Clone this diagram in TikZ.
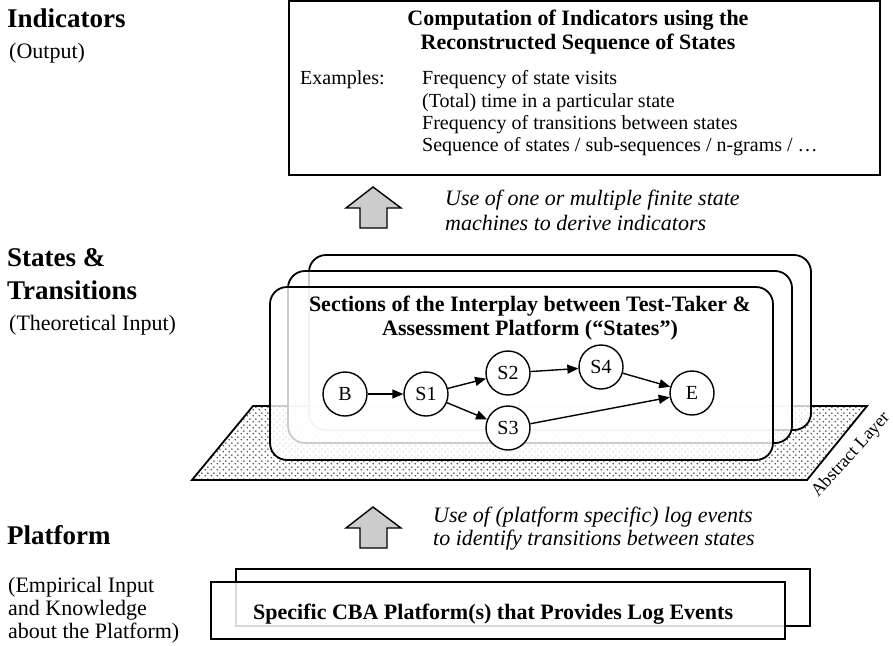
\documentclass[tikz,border=0pt]{standalone}
\usepackage{fontspec}
\setmainfont{Liberation Serif}
\usetikzlibrary{patterns.meta,arrows.meta}
\tikzdeclarepattern{
  name=layerdots,
  type=uncolored,
  bounding box={(0pt,0pt) and (6pt,6pt)},
  tile size={(6pt,6pt)},
  code={
    \fill (1.5pt,1.5pt) circle (0.95pt);
    \fill (4.5pt,4.5pt) circle (0.95pt);
  }
}
\tikzset{
  heading/.style={font=\fontsize{27}{30}\selectfont\bfseries, anchor=west, inner sep=0pt},
  subtext/.style={font=\fontsize{22}{23}\selectfont, anchor=west, inner sep=0pt, align=left},
  boxtext/.style={font=\fontsize{20}{22.4}\selectfont, inner sep=0pt},
  boldtext/.style={font=\fontsize{22}{24.5}\selectfont\bfseries, inner sep=0pt, align=center},
  itext/.style={font=\fontsize{22}{23.5}\selectfont\itshape, anchor=west, inner sep=0pt, align=left},
  state/.style={circle, draw, line width=1.4pt, minimum size=44pt, inner sep=0pt, font=\fontsize{20}{22}\selectfont, fill=white},
  trans/.style={line width=1.4pt, -{Triangle[length=11pt,width=9pt]}},
  layerbox/.style={draw, line width=1.8pt, rounded corners=17pt, fill=white, fill opacity=0.8, draw opacity=1},
  flatbox/.style={draw, line width=1.8pt, fill=white, fill opacity=0.85},
  bigarrow/.style={draw, line width=1.4pt, fill=black!20, line join=miter},
}
\begin{document}
\begin{tikzpicture}[x=1pt,y=-1pt]
\useasboundingbox (0,0) rectangle (893,645);

% left labels
\node[heading] (hInd) at (7,18) {Indicators};
\node[subtext] (sInd) at (9,53) {(Output)};
\node[heading] (hSt1) at (7,258) {States \&};
\node[heading] (hSt2) at (7,290) {Transitions};
\node[subtext] (sSt) at (9,325) {(Theoretical Input)};
\node[heading] (hPl) at (7,535) {Platform};
\node[subtext, anchor=west] (sPl1) at (8,587) {(Empirical Input};
\node[subtext, anchor=west] (sPl2) at (8,610) {and Knowledge};
\node[subtext, anchor=west] (sPl3) at (8,633) {about the Platform)};

% top box
\draw[line width=2pt] (289,1) rectangle (880,175);
\node[boldtext] (tTitle) at (578,32) {Computation of Indicators using the\\Reconstructed Sequence of States};
\node[boxtext, anchor=west] (tEx) at (300,80) {Examples:};
\node[boxtext, anchor=west] (tI1) at (422,80) {Frequency of state visits};
\node[boxtext, anchor=west] (tI2) at (422,103) {(Total) time in a particular state};
\node[boxtext, anchor=west] (tI3) at (422,125) {Frequency of transitions between states};
\node[boxtext, anchor=west] (tI4) at (422,147) {Sequence of states / sub-sequences / n-grams / \dots};

% upper block arrow
\draw[bigarrow] (373,187) -- (401,208) -- (387,208) -- (387,228) -- (360,228) -- (360,208) -- (346,208) -- cycle;
\node[itext] (uText1) at (445,200) {Use of one or multiple finite state};
\node[itext] (uText2) at (445,223) {machines to derive indicators};

% abstract layer
\path[pattern={layerdots}, pattern color=black!75] (253,406) -- (867,406) -- (807,480) -- (192,480) -- cycle;
\draw[line width=1.8pt] (253,406) -- (867,406) -- (807,480) -- (192,480) -- cycle;
\node[font=\fontsize{18}{20}\selectfont, rotate=48, inner sep=0pt] (alab) at (851,455) {Abstract Layer};

% layered state boxes
\draw[layerbox] (309,255) rectangle (811,430);
\draw[layerbox] (288,271) rectangle (792,443);
\draw[layerbox] (270,287) rectangle (773,460);
\node[boldtext] (sTitle) at (530,318) {Sections of the Interplay between Test-Taker \&\\Assessment Platform (“States”)};

\node[state] (B) at (345,394) {B};
\node[state] (S1) at (426,394) {S1};
\node[state] (S2) at (508,373) {S2};
\node[state] (S3) at (508,428) {S3};
\node[state] (S4) at (601,367) {S4};
\node[state] (E) at (692,393) {E};
\draw[trans] (B) -- (S1);
\draw[trans] (S1) -- (S2);
\draw[trans] (S1) -- (S3);
\draw[trans] (S2) -- (S4);
\draw[trans] (S4) -- (E);
\draw[trans] (S3) -- (E);

% lower block arrow
\draw[bigarrow] (373,507) -- (401,528) -- (387,528) -- (387,548) -- (360,548) -- (360,528) -- (346,528) -- cycle;
\node[itext] (lText1) at (433,517) {Use of (platform specific) log events};
\node[itext] (lText2) at (433,540) {to identify transitions between states};

% platform boxes
\draw[flatbox] (236,569) rectangle (810,626);
\draw[flatbox] (211,582) rectangle (785,639);
\node[boldtext, anchor=west] (pText) at (253,614) {Specific CBA Platform(s) that Provides Log Events};
\end{tikzpicture}
\end{document}
